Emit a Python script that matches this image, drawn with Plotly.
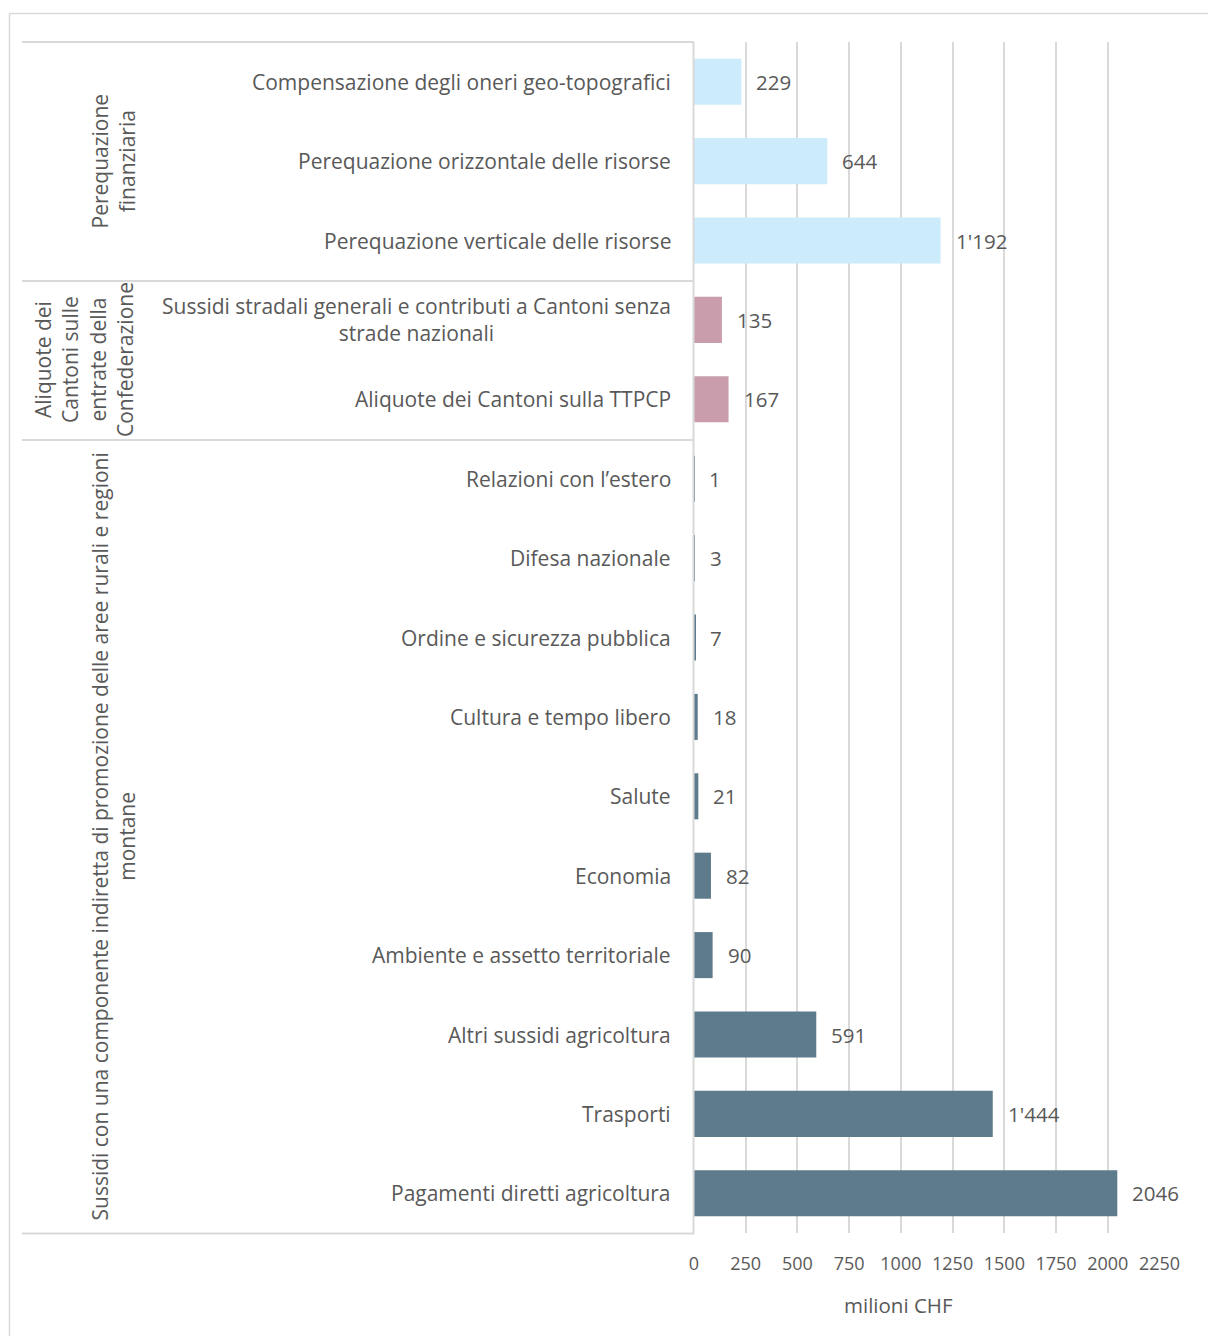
import plotly.graph_objects as go

W, H = 1208, 1336

categories = [
    "Compensazione degli oneri geo-topografici",
    "Perequazione orizzontale delle risorse",
    "Perequazione verticale delle risorse",
    "Sussidi stradali generali e contributi a Cantoni senza<br>strade nazionali",
    "Aliquote dei Cantoni sulla TTPCP",
    "Relazioni con l\u2019estero",
    "Difesa nazionale",
    "Ordine e sicurezza pubblica",
    "Cultura e tempo libero",
    "Salute",
    "Economia",
    "Ambiente e assetto territoriale",
    "Altri sussidi agricoltura",
    "Trasporti",
    "Pagamenti diretti agricoltura",
]
values = [229, 644, 1192, 135, 167, 1, 3, 7, 18, 21, 82, 90, 591, 1444, 2046]
value_labels = ["229", "644", "1'192", "135", "167", "1", "3", "7", "18", "21",
                "82", "90", "591", "1'444", "2046"]
groups = ["Perequazione<br>finanziaria",
          "Aliquote dei<br>Cantoni sulle<br>entrate della<br>Confederazione",
          "Sussidi con una componente indiretta di promozione delle aree rurali e regioni<br>montane"]
group_sizes = [3, 2, 10]
group_colors = ["#CCEBFB", "#C99DAB", "#5E7B8C"]
x_ticks = [0, 250, 500, 750, 1000, 1250, 1500, 1750, 2000, 2250]
x_title = "milioni CHF"

FONT = "Open Sans"
TXT = "#595959"
GRID = "#D9D9D9"


def px(x):
    return x / W


def py(y):
    return 1 - y / H


plot_l, plot_r, plot_t, plot_b = 694, 1159.5, 42, 1233

bar_colors = []
for c, n in zip(group_colors, group_sizes):
    bar_colors += [c] * n

fig = go.Figure(go.Bar(
    x=values, y=categories, orientation="h",
    marker=dict(color=bar_colors, line=dict(width=0)),
    hoverinfo="x+y",
))

annotations = []
for cat, v, lab in zip(categories, values, value_labels):
    annotations.append(dict(x=v, y=cat, xref="x", yref="y", text=lab, showarrow=False,
                            xanchor="left", xshift=13,
                            font=dict(size=20.5, color=TXT, family=FONT)))
    annotations.append(dict(x=px(673), y=cat, xref="paper", yref="y", text=cat, showarrow=False,
                            xanchor="right", align="center",
                            font=dict(size=21, color=TXT, family=FONT)))

group_pos = [(112.5, 161), (84, 360), (112.5, 837)]
for g, (gx, gy) in zip(groups, group_pos):
    annotations.append(dict(x=px(gx), y=py(gy), xref="paper", yref="paper", text=g,
                            showarrow=False, textangle=-90, align="center",
                            xanchor="center", yanchor="middle",
                            font=dict(size=21, color=TXT, family=FONT)))

annotations.append(dict(x=px(898), y=py(1305), xref="paper", yref="paper", text=x_title,
                        showarrow=False, xanchor="center", yanchor="middle",
                        font=dict(size=20.5, color=TXT, family=FONT)))

shapes = []
# outer chart border (left and top edges visible)
shapes.append(dict(type="line", xref="paper", yref="paper", x0=px(9.5), x1=1,
                   y0=py(13.5), y1=py(13.5), line=dict(color=GRID, width=1.5)))
shapes.append(dict(type="line", xref="paper", yref="paper", x0=px(9.5), x1=px(9.5),
                   y0=0, y1=py(13.5), line=dict(color=GRID, width=1.5)))
# table lines
for yy in [42, 281, 440, 1233.5]:
    shapes.append(dict(type="line", xref="paper", yref="paper", x0=px(22), x1=px(694),
                       y0=py(yy), y1=py(yy), line=dict(color=GRID, width=2)))
shapes.append(dict(type="line", xref="paper", yref="paper", x0=px(693.5), x1=px(693.5),
                   y0=py(42), y1=py(1234), line=dict(color=GRID, width=2)))

fig.update_layout(
    width=W, height=H,
    margin=dict(l=0, r=0, t=0, b=0, pad=0, autoexpand=False),
    paper_bgcolor="white", plot_bgcolor="white",
    bargap=0.42,
    showlegend=False,
    font=dict(family=FONT, color=TXT, size=18),
    xaxis=dict(domain=[px(plot_l), px(plot_r)], range=[0, 2250], automargin=False,
               tickvals=x_ticks, ticktext=[str(t) for t in x_ticks],
               showgrid=True, gridcolor=GRID, gridwidth=2, zeroline=False,
               showline=False, ticks="", 
               tickfont=dict(size=18, color=TXT, family=FONT), ticklabelstandoff=18),
    yaxis=dict(domain=[py(plot_b), py(plot_t)], autorange="reversed", automargin=False,
               showticklabels=False, showgrid=False, zeroline=False, showline=False,
               type="category"),
    annotations=annotations,
    shapes=shapes,
)

fig.write_html("out.html")
